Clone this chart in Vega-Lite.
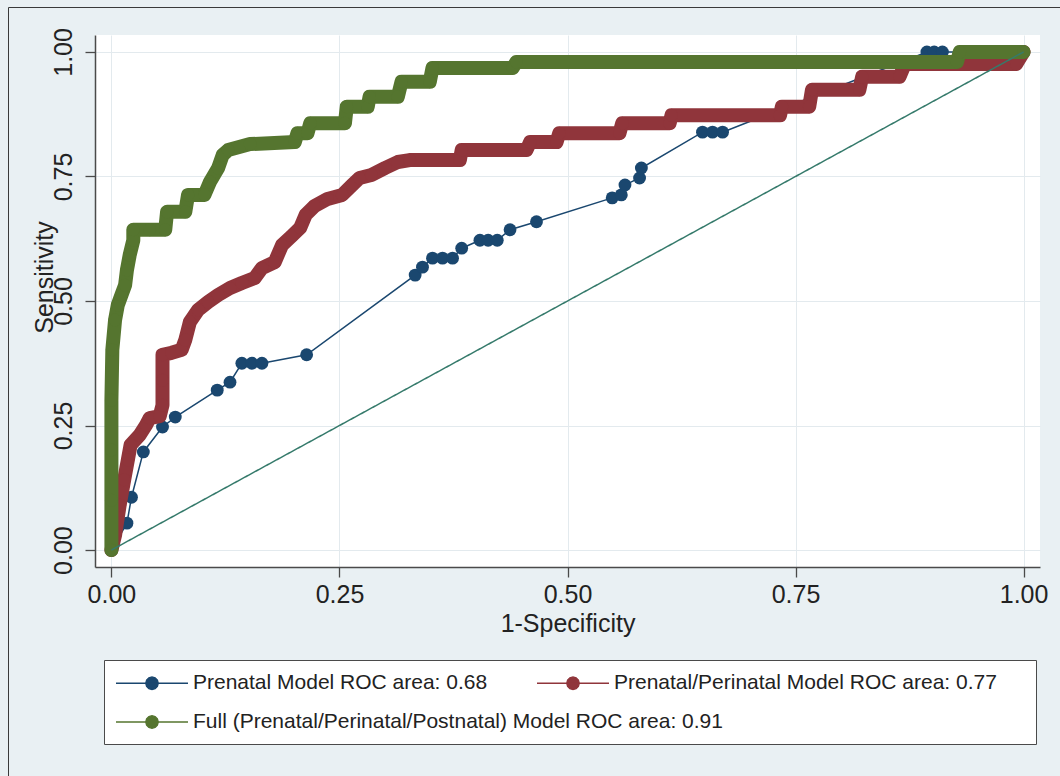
{
  "$schema": "https://vega.github.io/schema/vega-lite/v6.json",
  "width": 945,
  "height": 532,
  "autosize": {"type": "none"},
  "padding": {"left": 95, "top": 35, "right": 20, "bottom": 209},
  "background": "#e9f0f3",
  "config": {
    "font": "Liberation Sans",
    "view": {"fill": "white", "stroke": null},
    "axis": {
      "labelFont": "Liberation Sans",
      "titleFont": "Liberation Sans",
      "labelFontSize": 25,
      "titleFontSize": 25,
      "titleFontWeight": "normal",
      "labelColor": "#222222",
      "titleColor": "#222222",
      "domainColor": "#4a4a4a",
      "domainWidth": 1.5,
      "tickColor": "#4a4a4a",
      "tickWidth": 1.3,
      "tickSize": 10,
      "gridColor": "#e3eaee",
      "gridWidth": 1,
      "labelFlush": false,
      "labelOverlap": false
    },
    "legend": {
      "labelFont": "Liberation Sans",
      "labelFontSize": 21,
      "labelColor": "#222222",
      "labelLimit": 900,
      "labelOffset": 30.5,
      "symbolOffset": 25.5,
      "symbolSize": 361,
      "symbolStrokeWidth": 1.3,
      "symbolType": "M-3.79,0H3.79M0.66,0L0.57,0.33L0.33,0.57L0,0.66L-0.33,0.57L-0.57,0.33L-0.66,0L-0.57,-0.33L-0.33,-0.57L0,-0.66L0.33,-0.57L0.57,-0.33Z"
    }
  },
  "datasets": {
    "roc": [
      {"m": "a", "fpr": 0, "sens": 0},
      {"m": "a", "fpr": 0.017, "sens": 0.054},
      {"m": "a", "fpr": 0.022, "sens": 0.106},
      {"m": "a", "fpr": 0.035, "sens": 0.197},
      {"m": "a", "fpr": 0.056, "sens": 0.247},
      {"m": "a", "fpr": 0.070, "sens": 0.267},
      {"m": "a", "fpr": 0.116, "sens": 0.321},
      {"m": "a", "fpr": 0.130, "sens": 0.337},
      {"m": "a", "fpr": 0.143, "sens": 0.375},
      {"m": "a", "fpr": 0.154, "sens": 0.375},
      {"m": "a", "fpr": 0.165, "sens": 0.375},
      {"m": "a", "fpr": 0.214, "sens": 0.392},
      {"m": "a", "fpr": 0.333, "sens": 0.552},
      {"m": "a", "fpr": 0.341, "sens": 0.568},
      {"m": "a", "fpr": 0.352, "sens": 0.586},
      {"m": "a", "fpr": 0.363, "sens": 0.586},
      {"m": "a", "fpr": 0.374, "sens": 0.586},
      {"m": "a", "fpr": 0.384, "sens": 0.606},
      {"m": "a", "fpr": 0.404, "sens": 0.622},
      {"m": "a", "fpr": 0.413, "sens": 0.622},
      {"m": "a", "fpr": 0.423, "sens": 0.622},
      {"m": "a", "fpr": 0.437, "sens": 0.643},
      {"m": "a", "fpr": 0.466, "sens": 0.659},
      {"m": "a", "fpr": 0.549, "sens": 0.707},
      {"m": "a", "fpr": 0.559, "sens": 0.713},
      {"m": "a", "fpr": 0.563, "sens": 0.733},
      {"m": "a", "fpr": 0.579, "sens": 0.747},
      {"m": "a", "fpr": 0.581, "sens": 0.767},
      {"m": "a", "fpr": 0.648, "sens": 0.839},
      {"m": "a", "fpr": 0.659, "sens": 0.839},
      {"m": "a", "fpr": 0.670, "sens": 0.839},
      {"m": "a", "fpr": 0.894, "sens": 1.0},
      {"m": "a", "fpr": 0.902, "sens": 1.0},
      {"m": "a", "fpr": 0.911, "sens": 1.0},
      {"m": "a", "fpr": 1.0, "sens": 1.0},

      {"m": "b", "fpr": 0, "sens": 0},
      {"m": "b", "fpr": 0.004, "sens": 0.030},
      {"m": "b", "fpr": 0.009, "sens": 0.090},
      {"m": "b", "fpr": 0.014, "sens": 0.141},
      {"m": "b", "fpr": 0.018, "sens": 0.181},
      {"m": "b", "fpr": 0.021, "sens": 0.211},
      {"m": "b", "fpr": 0.031, "sens": 0.231},
      {"m": "b", "fpr": 0.038, "sens": 0.251},
      {"m": "b", "fpr": 0.042, "sens": 0.265},
      {"m": "b", "fpr": 0.053, "sens": 0.269},
      {"m": "b", "fpr": 0.056, "sens": 0.291},
      {"m": "b", "fpr": 0.056, "sens": 0.341},
      {"m": "b", "fpr": 0.056, "sens": 0.392},
      {"m": "b", "fpr": 0.066, "sens": 0.396},
      {"m": "b", "fpr": 0.077, "sens": 0.402},
      {"m": "b", "fpr": 0.081, "sens": 0.422},
      {"m": "b", "fpr": 0.086, "sens": 0.458},
      {"m": "b", "fpr": 0.095, "sens": 0.482},
      {"m": "b", "fpr": 0.106, "sens": 0.498},
      {"m": "b", "fpr": 0.117, "sens": 0.512},
      {"m": "b", "fpr": 0.130, "sens": 0.526},
      {"m": "b", "fpr": 0.143, "sens": 0.536},
      {"m": "b", "fpr": 0.157, "sens": 0.546},
      {"m": "b", "fpr": 0.165, "sens": 0.566},
      {"m": "b", "fpr": 0.179, "sens": 0.578},
      {"m": "b", "fpr": 0.187, "sens": 0.612},
      {"m": "b", "fpr": 0.198, "sens": 0.631},
      {"m": "b", "fpr": 0.207, "sens": 0.647},
      {"m": "b", "fpr": 0.213, "sens": 0.673},
      {"m": "b", "fpr": 0.223, "sens": 0.691},
      {"m": "b", "fpr": 0.237, "sens": 0.705},
      {"m": "b", "fpr": 0.253, "sens": 0.713},
      {"m": "b", "fpr": 0.264, "sens": 0.733},
      {"m": "b", "fpr": 0.272, "sens": 0.747},
      {"m": "b", "fpr": 0.285, "sens": 0.753},
      {"m": "b", "fpr": 0.300, "sens": 0.767},
      {"m": "b", "fpr": 0.314, "sens": 0.779},
      {"m": "b", "fpr": 0.327, "sens": 0.783},
      {"m": "b", "fpr": 0.382, "sens": 0.783},
      {"m": "b", "fpr": 0.384, "sens": 0.803},
      {"m": "b", "fpr": 0.455, "sens": 0.803},
      {"m": "b", "fpr": 0.459, "sens": 0.819},
      {"m": "b", "fpr": 0.488, "sens": 0.819},
      {"m": "b", "fpr": 0.491, "sens": 0.837},
      {"m": "b", "fpr": 0.557, "sens": 0.837},
      {"m": "b", "fpr": 0.560, "sens": 0.857},
      {"m": "b", "fpr": 0.612, "sens": 0.857},
      {"m": "b", "fpr": 0.614, "sens": 0.873},
      {"m": "b", "fpr": 0.733, "sens": 0.873},
      {"m": "b", "fpr": 0.735, "sens": 0.890},
      {"m": "b", "fpr": 0.765, "sens": 0.890},
      {"m": "b", "fpr": 0.768, "sens": 0.924},
      {"m": "b", "fpr": 0.820, "sens": 0.924},
      {"m": "b", "fpr": 0.823, "sens": 0.950},
      {"m": "b", "fpr": 0.864, "sens": 0.950},
      {"m": "b", "fpr": 0.870, "sens": 0.976},
      {"m": "b", "fpr": 0.992, "sens": 0.976},
      {"m": "b", "fpr": 1.0, "sens": 1.0},

      {"m": "c", "fpr": 0, "sens": 0},
      {"m": "c", "fpr": 0, "sens": 0.100},
      {"m": "c", "fpr": 0, "sens": 0.201},
      {"m": "c", "fpr": 0, "sens": 0.301},
      {"m": "c", "fpr": 0.001, "sens": 0.402},
      {"m": "c", "fpr": 0.004, "sens": 0.462},
      {"m": "c", "fpr": 0.007, "sens": 0.492},
      {"m": "c", "fpr": 0.011, "sens": 0.512},
      {"m": "c", "fpr": 0.015, "sens": 0.532},
      {"m": "c", "fpr": 0.017, "sens": 0.562},
      {"m": "c", "fpr": 0.020, "sens": 0.592},
      {"m": "c", "fpr": 0.024, "sens": 0.622},
      {"m": "c", "fpr": 0.024, "sens": 0.643},
      {"m": "c", "fpr": 0.042, "sens": 0.643},
      {"m": "c", "fpr": 0.059, "sens": 0.643},
      {"m": "c", "fpr": 0.061, "sens": 0.679},
      {"m": "c", "fpr": 0.081, "sens": 0.679},
      {"m": "c", "fpr": 0.084, "sens": 0.713},
      {"m": "c", "fpr": 0.102, "sens": 0.713},
      {"m": "c", "fpr": 0.108, "sens": 0.739},
      {"m": "c", "fpr": 0.117, "sens": 0.767},
      {"m": "c", "fpr": 0.122, "sens": 0.793},
      {"m": "c", "fpr": 0.128, "sens": 0.803},
      {"m": "c", "fpr": 0.152, "sens": 0.815},
      {"m": "c", "fpr": 0.201, "sens": 0.819},
      {"m": "c", "fpr": 0.204, "sens": 0.837},
      {"m": "c", "fpr": 0.215, "sens": 0.837},
      {"m": "c", "fpr": 0.218, "sens": 0.857},
      {"m": "c", "fpr": 0.256, "sens": 0.857},
      {"m": "c", "fpr": 0.258, "sens": 0.890},
      {"m": "c", "fpr": 0.281, "sens": 0.890},
      {"m": "c", "fpr": 0.283, "sens": 0.910},
      {"m": "c", "fpr": 0.314, "sens": 0.910},
      {"m": "c", "fpr": 0.318, "sens": 0.940},
      {"m": "c", "fpr": 0.349, "sens": 0.940},
      {"m": "c", "fpr": 0.352, "sens": 0.968},
      {"m": "c", "fpr": 0.440, "sens": 0.968},
      {"m": "c", "fpr": 0.444, "sens": 0.980},
      {"m": "c", "fpr": 0.927, "sens": 0.980},
      {"m": "c", "fpr": 0.930, "sens": 1.0},
      {"m": "c", "fpr": 1.0, "sens": 1.0}
    ],
    "reference": [
      {"fpr": 0, "sens": 0},
      {"fpr": 1, "sens": 1}
    ]
  },
  "encoding": {
    "x": {
      "field": "fpr",
      "type": "quantitative",
      "scale": {"domain": [-0.018, 1.018], "nice": false, "zero": false},
      "axis": {
        "title": "1-Specificity",
        "values": [0, 0.25, 0.5, 0.75, 1],
        "format": ".2f",
        "labelPadding": 5,
        "titlePadding": 4,
        "grid": true
      }
    },
    "y": {
      "field": "sens",
      "type": "quantitative",
      "scale": {"domain": [-0.034, 1.034], "nice": false, "zero": false},
      "axis": {
        "title": "Sensitivity",
        "values": [0, 0.25, 0.5, 0.75, 1],
        "format": ".2f",
        "labelAngle": -90,
        "labelAlign": "center",
        "labelBaseline": "bottom",
        "labelPadding": 9,
        "titleAngle": -90,
        "titleAlign": "center",
        "titleBaseline": "alphabetic",
        "titleX": -43,
        "titleY": 242,
        "grid": true
      }
    }
  },
  "layer": [
    {
      "data": {"name": "roc"},
      "encoding": {
        "color": {
          "field": "m",
          "type": "nominal",
          "scale": {"domain": ["a", "b", "c"], "range": ["#1a476f", "#90353b", "#55752f"]},
          "legend": {
            "values": ["a", "b"],
            "orient": "none",
            "legendX": 21,
            "legendY": 637.5,
            "direction": "horizontal",
            "columnPadding": 46,
            "padding": 0,
            "title": null,
            "zindex": 2,
            "labelExpr": "datum.label == 'a' ? 'Prenatal Model ROC area: 0.68' : 'Prenatal/Perinatal Model ROC area: 0.77'",
            "encode": {
              "symbols": {
                "update": {
                  "fill": {"scale": "color", "field": "value"},
                  "stroke": {"scale": "color", "field": "value"},
                  "opacity": {"value": 1}
                }
              }
            }
          }
        },
        "order": [{"field": "fpr"}, {"field": "sens"}]
      },
      "layer": [
        {
          "transform": [{"filter": "datum.m === 'a'"}],
          "mark": {"type": "line", "strokeWidth": 1.5}
        },
        {
          "transform": [{"filter": "datum.m === 'a'"}],
          "mark": {"type": "point", "filled": true, "size": 165, "opacity": 1}
        },
        {
          "transform": [{"filter": "datum.m === 'b'"}],
          "mark": {"type": "line", "strokeWidth": 14, "strokeCap": "round", "strokeJoin": "round"}
        },
        {
          "transform": [{"filter": "datum.m === 'b'"}],
          "mark": {"type": "point", "filled": true, "size": 165, "opacity": 1}
        },
        {
          "transform": [{"filter": "datum.m === 'c'"}],
          "mark": {"type": "line", "strokeWidth": 14, "strokeCap": "round", "strokeJoin": "round"}
        },
        {
          "transform": [{"filter": "datum.m === 'c'"}],
          "mark": {"type": "point", "filled": true, "size": 165, "opacity": 1},
          "encoding": {
            "fill": {
              "field": "m",
              "type": "nominal",
              "scale": {"domain": ["c"], "range": ["#55752f"]},
              "legend": {
                "orient": "none",
                "legendX": 9,
                "legendY": 625,
                "padding": 12,
                "strokeColor": "#4a4a4a",
                "fillColor": "white",
                "zindex": 1,
                "title": " ",
                "titleOrient": "top",
                "titleAnchor": "start",
                "titleFontSize": 21,
                "titlePadding": 18.5,
                "symbolStrokeColor": "#55752f",
                "symbolType": "M-3.79,0H3.79M0.66,0L0.57,0.33L0.33,0.57L0,0.66L-0.33,0.57L-0.57,0.33L-0.66,0L-0.57,-0.33L-0.33,-0.57L0,-0.66L0.33,-0.57L0.57,-0.33ZM91.5,0L91.5,0",
                "labelExpr": "'Full (Prenatal/Perinatal/Postnatal) Model ROC area: 0.91'",
                "encode": {
                  "symbols": {
                    "update": {
                      "fill": {"value": "#55752f"},
                      "stroke": {"value": "#55752f"},
                      "opacity": {"value": 1}
                    }
                  }
                }
              }
            }
          }
        }
      ]
    },
    {
      "data": {"name": "reference"},
      "mark": {"type": "line", "color": "#357a6b", "strokeWidth": 1.5},
      "encoding": {
        "strokeDash": {
          "datum": "r",
          "type": "nominal",
          "scale": {"domain": ["r"], "range": [[1, 0]]},
          "legend": {
            "orient": "none",
            "legendX": -87,
            "legendY": -28,
            "padding": 540,
            "strokeColor": "#3a3a3a",
            "fillColor": null,
            "title": null,
            "zindex": 0,
            "symbolType": "circle",
            "symbolSize": 0,
            "symbolStrokeWidth": 0,
            "symbolOpacity": 0,
            "symbolStrokeColor": "transparent",
            "symbolFillColor": "transparent",
            "labelExpr": "''",
            "encode": {
              "symbols": {"update": {"opacity": {"value": 0}, "strokeOpacity": {"value": 0}, "fillOpacity": {"value": 0}}}
            }
          }
        }
      }
    }
  ]
}
